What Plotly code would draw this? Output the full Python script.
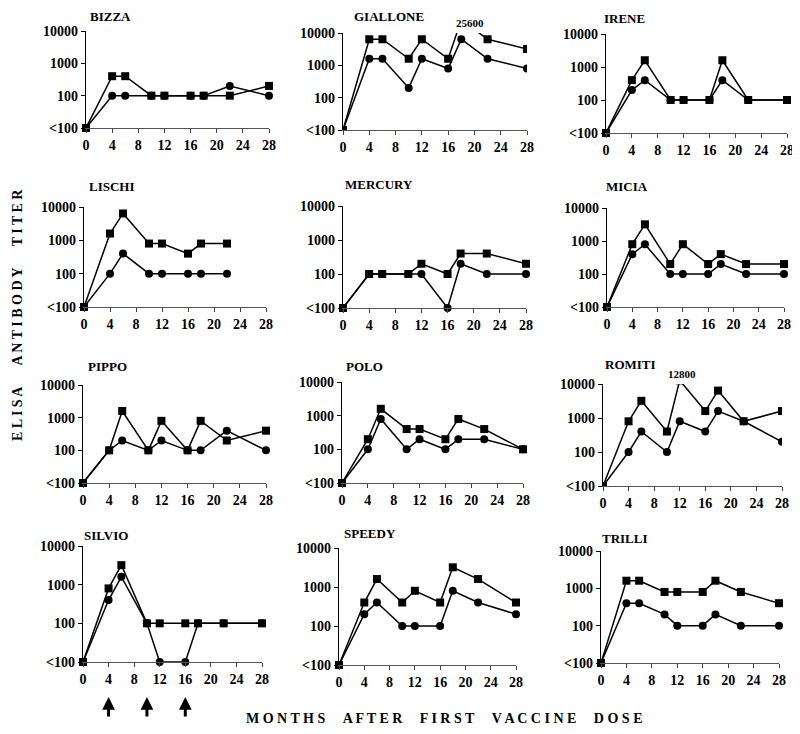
import plotly.graph_objects as go

# ---------------- data ----------------
months = [0, 4, 6, 10, 12, 16, 18, 22, 28]
# "<100" is plotted one decade below 100 (value 10)
names = ["BIZZA", "GIALLONE", "IRENE", "LISCHI", "MERCURY", "MICIA",
         "PIPPO", "POLO", "ROMITI", "SILVIO", "SPEEDY", "TRILLI"]

bizza_sq = [10, 400, 400, 100, 100, 100, 100, 100, 200]
bizza_ci = [10, 100, 100, 100, 100, 100, 100, 200, 100]
giallone_sq = [10, 6400, 6400, 1600, 6400, 1600, 25600, 6400, 3200]
giallone_ci = [10, 1600, 1600, 200, 1600, 800, 6400, 1600, 800]
irene_sq = [10, 400, 1600, 100, 100, 100, 1600, 100, 100]
irene_ci = [10, 200, 400, 100, 100, 100, 400, 100, 100]
lischi_sq = [10, 1600, 6400, 800, 800, 400, 800, 800, None]
lischi_ci = [10, 100, 400, 100, 100, 100, 100, 100, None]
mercury_sq = [10, 100, 100, 100, 200, 100, 400, 400, 200]
mercury_ci = [10, 100, 100, 100, 100, 10, 200, 100, 100]
micia_sq = [10, 800, 3200, 200, 800, 200, 400, 200, 200]
micia_ci = [10, 400, 800, 100, 100, 100, 200, 100, 100]
pippo_sq = [10, 100, 1600, 100, 800, 100, 800, 200, 400]
pippo_ci = [10, 100, 200, 100, 200, 100, 100, 400, 100]
polo_sq = [10, 200, 1600, 400, 400, 200, 800, 400, 100]
polo_ci = [10, 100, 800, 100, 200, 100, 200, 200, 100]
romiti_sq = [10, 800, 3200, 400, 12800, 1600, 6400, 800, 1600]
romiti_ci = [10, 100, 400, 100, 800, 400, 1600, 800, 200]
silvio_sq = [10, 800, 3200, 100, 100, 100, 100, 100, 100]
silvio_ci = [10, 400, 1600, 100, 10, 10, 100, 100, 100]
speedy_sq = [10, 400, 1600, 400, 800, 400, 3200, 1600, 400]
speedy_ci = [10, 200, 400, 100, 100, 100, 800, 400, 200]
trilli_sq = [10, 1600, 1600, 800, 800, 800, 1600, 800, 400]
trilli_ci = [10, 400, 400, 200, 100, 100, 200, 100, 100]

squares = [bizza_sq, giallone_sq, irene_sq, lischi_sq, mercury_sq, micia_sq,
           pippo_sq, polo_sq, romiti_sq, silvio_sq, speedy_sq, trilli_sq]
circles = [bizza_ci, giallone_ci, irene_ci, lischi_ci, mercury_ci, micia_ci,
           pippo_ci, polo_ci, romiti_ci, silvio_ci, speedy_ci, trilli_ci]

ytick_vals = [10, 100, 1000, 10000]
ytick_text = ["<100", "100", "1000", "10000"]
xtick_vals = [0, 4, 8, 12, 16, 20, 24, 28]
vaccine_doses = [4, 10, 16]
offscale_labels = [("25600", 1), ("12800", 8)]

# ---------------- layout (pixel geometry, in window pixels) ----------------
OFF = 8                      # page body margin
W, H = 800 - OFF, 734 - OFF  # figure size so it fits inside the window
# x of month 0, x of month 28, y of 10000, y of <100
geom = [
    (86, 269, 31, 128), (343, 527, 33, 130), (606, 787, 34, 133),
    (84, 266, 207, 307), (343, 526, 206, 308), (607, 784, 208, 307),
    (83, 266, 385, 483), (342, 523, 382, 483), (603, 782, 384, 486),
    (83, 262, 546, 662), (339, 516, 548, 665), (601, 779, 551, 663),
]
title_pos = [(88, 16), (352, 17), (602, 19), (87, 186), (343, 185), (604, 186),
             (86, 367), (344, 367), (603, 364), (82, 535), (342, 533), (600, 538)]
offscale_pos = {1: (470, 23), 8: (682, 374)}

FONT = "Liberation Serif"

def px(x):
    return (x - OFF) / W

def py(y):
    return 1 - (y - OFF) / H

fig = go.Figure()
layout = dict(
    width=W, height=H, margin=dict(l=0, r=0, t=0, b=0, pad=0, autoexpand=False),
    paper_bgcolor="white", plot_bgcolor="white", showlegend=False,
    font=dict(family=FONT, color="black"),
)
annotations = []

for i, name in enumerate(names):
    sfx = "" if i == 0 else str(i + 1)
    x0, x28, ytop, ybot = geom[i]
    clip = i in (1, 8)
    fig.add_trace(go.Scatter(
        x=months, y=circles[i], mode="lines+markers", xaxis="x" + sfx, yaxis="y" + sfx,
        line=dict(color="black", width=1.5), marker=dict(symbol="circle", size=8, color="black"),
        cliponaxis=clip, connectgaps=False))
    fig.add_trace(go.Scatter(
        x=months, y=squares[i], mode="lines+markers", xaxis="x" + sfx, yaxis="y" + sfx,
        line=dict(color="black", width=1.5), marker=dict(symbol="square", size=8, color="black"),
        cliponaxis=clip, connectgaps=False))
    layout["xaxis" + sfx] = dict(
        domain=[px(x0), px(x28)], anchor="y" + sfx, range=[0, 28], automargin=False,
        tickvals=xtick_vals, ticks="outside", ticklen=4, tickcolor="#444",
        showline=True, linecolor="#555", linewidth=1, showgrid=False, zeroline=False,
        tickfont=dict(family=FONT, size=14, color="black", weight="bold"))
    layout["yaxis" + sfx] = dict(
        domain=[py(ybot), py(ytop)], anchor="x" + sfx, type="log", range=[1, 4],
        automargin=False,
        tickvals=ytick_vals, ticktext=ytick_text, ticks="outside", ticklen=4,
        tickcolor="black", showline=True, linecolor="black", linewidth=1.2,
        showgrid=False, zeroline=False,
        tickfont=dict(family=FONT, size=14, color="black", weight="bold"))
    tx, ty = title_pos[i]
    annotations.append(dict(
        text="<b>%s</b>" % name, x=px(tx), y=py(ty), xref="paper", yref="paper",
        xanchor="left", yanchor="middle", showarrow=False,
        font=dict(family=FONT, size=13, color="black")))

for label, idx in offscale_labels:
    lx, ly = offscale_pos[idx]
    annotations.append(dict(
        text="<b>%s</b>" % label, x=px(lx), y=py(ly), xref="paper", yref="paper",
        xanchor="center", yanchor="middle", showarrow=False,
        font=dict(family=FONT, size=11, color="black")))

for d in vaccine_doses:
    annotations.append(dict(
        text="", x=d, y=py(697), xref="x10", yref="paper", ax=0, ay=21,
        showarrow=True, arrowhead=2, arrowsize=0.85, arrowwidth=3, arrowcolor="black"))

ytitle = ("&nbsp;" * 6).join(" ".join(w) for w in ["ELISA", "ANTIBODY", "TITER"])
xtitle = ("&nbsp;" * 5).join(" ".join(w) for w in ["MONTHS", "AFTER", "FIRST", "VACCINE", "DOSE"])

annotations.append(dict(
    text="<b>%s</b>" % ytitle,
    x=px(17), y=py(315), xref="paper", yref="paper", textangle=-90,
    xanchor="center", yanchor="middle", showarrow=False,
    font=dict(family=FONT, size=14, color="black")))
annotations.append(dict(
    text="<b>%s</b>" % xtitle,
    x=px(444), y=py(718), xref="paper", yref="paper",
    xanchor="center", yanchor="middle", showarrow=False,
    font=dict(family=FONT, size=14, color="black")))

layout["annotations"] = annotations
fig.update_layout(**layout)
fig.write_html("out.html")
